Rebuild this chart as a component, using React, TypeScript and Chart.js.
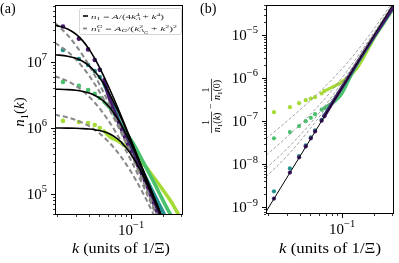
import React, { useEffect, useRef } from 'react';
import { Chart, registerables } from 'chart.js';

Chart.register(...registerables);

const FONT = '"Liberation Serif", "DejaVu Serif", "Times New Roman", serif';
const PURPLE = '#46186d';
const TEAL = '#22908c';
const GREEN = '#49c16d';
const LIME = '#a6db35';
const GRAY = '#888888';
const BLACK = '#000000';

// ---------- axis ranges ----------
const kMin = 0.019;
const kMax = 0.31;
const aMin = 4.8e4;
const aMax = 7.3e7;
const bMin = 7.2e-10;
const bMax = 5.0e-5;
const aYTickExps = [5, 6, 7];
const bYTickExps = [-9, -8, -7, -6, -5];
const xTickExps = [-1];

// ---------- panel (a) ----------
const kFit = [0.019, 0.025, 0.03, 0.035, 0.04, 0.045, 0.05, 0.06, 0.07, 0.08, 0.1, 0.13, 0.17, 0.22];
const fitBlack1 = [3.62e7, 3.17e7, 2.64e7, 2.07e7, 1.555e7, 1.142e7, 8.33e6, 4.52e6, 2.58e6, 1.553e6, 6.51e5, 2.3e5, 7.91e4, 2.82e4];
const fitBlack2 = [1.286e7, 1.224e7, 1.136e7, 1.015e7, 8.73e6, 7.25e6, 5.87e6, 3.67e6, 2.275e6, 1.436e6, 6.29e5, 2.27e5, 7.86e4, 2.81e4];
const fitBlack3 = [3.87e6, 3.81e6, 3.72e6, 3.58e6, 3.39e6, 3.14e6, 2.85e6, 2.21e6, 1.612e6, 1.14e6, 5.64e5, 2.18e5, 7.74e4, 2.8e4];
const fitBlack4 = [9.98e5, 9.94e5, 9.88e5, 9.78e5, 9.63e5, 9.42e5, 9.13e5, 8.36e5, 7.33e5, 6.17e5, 3.98e5, 1.88e5, 7.32e4, 2.74e4];
const fitGray1 = [3.9e7, 2.556e7, 1.78e7, 1.245e7, 8.81e6, 6.33e6, 4.62e6, 2.58e6, 1.532e6, 9.57e5, 4.24e5, 1.574e5, 5.58e4, 2.03e4];
const fitGray2 = [1.951e7, 1.438e7, 1.092e7, 8.23e6, 6.2e6, 4.69e6, 3.57e6, 2.13e6, 1.326e6, 8.57e5, 3.96e5, 1.519e5, 5.5e4, 2.03e4];
const fitGray3 = [6.11e6, 5.12e6, 4.33e6, 3.6e6, 2.97e6, 2.44e6, 2.0e6, 1.344e6, 9.13e5, 6.31e5, 3.2e5, 1.328e5, 5.07e4, 1.93e4];
const fitGray4 = [1.582e6, 1.444e6, 1.318e6, 1.189e6, 1.0625e6, 9.42e5, 8.3e5, 6.37e5, 4.84e5, 3.68e5, 2.15e5, 1.018e5, 4.28e4, 1.74e4];

const kDotsA = [0.0226, 0.032, 0.0391, 0.0452, 0.0505];
const aPurpleDots = [3.45e7, 2.25e7, 1.55e7, 1.07e7, 7.6e6];
const aTealDots = [1.52e7, 1.11e7, 9.0e6, 7.3e6, 5.9e6];
const aGreenDots = [4.98e6, 4.34e6, 3.77e6, 3.28e6, 2.85e6];
const aLimeDots = [1.28e6, 1.23e6, 1.19e6, 1.11e6, 1.0e6];

const aPurpleK = [0.0554, 0.0617, 0.0719, 0.0894, 0.1161, 0.1444, 0.1758, 0.1918];
const aPurpleN = [5.4e6, 2.95e6, 1.52e6, 6.59e5, 2.66e5, 1.23e5, 5.35e4, 3.77e4];
const aTealK = [0.0554, 0.0631, 0.0719, 0.0819, 0.0997, 0.1268, 0.1576, 0.2003, 0.2235];
const aTealN = [4.65e6, 2.85e6, 1.69e6, 1.0e6, 5.16e5, 2.31e5, 1.15e5, 5.35e4, 3.77e4];
const aGreenK = [0.0554, 0.0631, 0.0719, 0.0875, 0.1041, 0.1268, 0.151, 0.1797, 0.2284, 0.2603];
const aGreenN = [2.48e6, 2.01e6, 1.47e6, 9.0e5, 5.93e5, 3.28e5, 1.94e5, 1.13e5, 5.35e4, 3.9e4];
const aLimeK = [0.0554, 0.0631, 0.0751, 0.0875, 0.1041, 0.1268, 0.1576, 0.2003, 0.2438, 0.2718, 0.3031];
const aLimeN = [9.0e5, 7.31e5, 6.36e5, 5.34e5, 4.34e5, 3.05e5, 1.94e5, 1.15e5, 7.31e4, 5.35e4, 3.9e4];

// ---------- panel (b) ----------
const kLineB = [0.019, 0.31];
const lineB = [7.9e-10, 5.6e-5];
const kDashB = [0.019, 0.03, 0.05, 0.08, 0.12, 0.2, 0.31];
const dashB1 = [3.91e-8, 1.0e-7, 3.03e-7, 9.26e-7, 2.78e-6, 1.39e-5, 6.6e-5];
const dashB2 = [1.61e-8, 4.31e-8, 1.44e-7, 5.19e-7, 1.87e-6, 1.14e-5, 6.0e-5];
const dashB3 = [8.0e-9, 2.29e-8, 8.8e-8, 3.76e-7, 1.55e-6, 1.05e-5, 5.8e-5];
const dashB4 = [5.06e-9, 1.55e-8, 6.75e-8, 3.24e-7, 1.43e-6, 1.02e-5, 5.7e-5];

const kDotsB = [0.0226, 0.032, 0.0391, 0.0452, 0.0505, 0.0554, 0.0639, 0.0678];
const bPurpleDots = [1.6e-9, 6.4e-9, 1.45e-8, 2.6e-8, 4.0e-8, 5.8e-8, 1.03e-7, 1.3e-7];
const bTealDots = [2.35e-9, 8.0e-9, 1.55e-8, 2.75e-8, 4.2e-8, 6.1e-8, 1.08e-7, 1.36e-7];
const bGreenDots = [4.0e-8, 5.6e-8, 7.7e-8, 1.0e-7, 1.2e-7, 1.46e-7, 1.85e-7, 2.0e-7];
const bLimeDots = [1.62e-7, 2.12e-7, 2.62e-7, 3.08e-7, 3.35e-7, 3.62e-7, 4.4e-7, 5.0e-7];

const bPurpleK = [0.0678, 0.08, 0.1, 0.13, 0.16, 0.2, 0.25, 0.3, 0.32];
const bPurpleV = [1.3e-7, 2.55e-7, 6.2e-7, 1.75e-6, 3.95e-6, 9.3e-6, 2.15e-5, 4.2e-5, 5.3e-5];
const bTealK = [0.0678, 0.08, 0.1, 0.13, 0.16, 0.2, 0.25, 0.3, 0.32];
const bTealV = [1.36e-7, 2.6e-7, 6.1e-7, 1.7e-6, 3.85e-6, 9.0e-6, 2.05e-5, 4.0e-5, 5.0e-5];
const bGreenK = [0.0678, 0.0735, 0.0818, 0.0913, 0.1, 0.119, 0.15, 0.2, 0.25, 0.3, 0.32];
const bGreenV = [2.0e-7, 2.3e-7, 2.7e-7, 3.4e-7, 4.5e-7, 1.05e-6, 2.9e-6, 8.8e-6, 2.0e-5, 3.9e-5, 4.9e-5];
const bLimeK = [0.0678, 0.08, 0.097, 0.115, 0.137, 0.165, 0.2, 0.25, 0.3, 0.32];
const bLimeV = [5.0e-7, 6.1e-7, 7.9e-7, 1.08e-6, 1.65e-6, 3.5e-6, 8.4e-6, 1.95e-5, 3.85e-5, 4.8e-5];

// ---------- helpers ----------
type Part = { t: string; it?: boolean; s?: number; dy?: number; adv?: boolean };

function rich(ctx: CanvasRenderingContext2D, parts: Part[], x: number, y: number, size: number, draw = true): number {
  let cx = x;
  for (const p of parts) {
    const fs = size * (p.s ?? 1);
    ctx.font = `${p.it ? 'italic ' : ''}${fs}px ${FONT}`;
    const w = ctx.measureText(p.t).width;
    if (draw) ctx.fillText(p.t, cx, y + (p.dy ?? 0) * size);
    if (p.adv !== false) cx += w;
  }
  return cx - x;
}

function logTicks(min: number, max: number) {
  const out: { v: number; major: boolean }[] = [];
  for (let e = Math.floor(Math.log10(min)); e <= Math.ceil(Math.log10(max)); e++) {
    for (let m = 1; m <= 9; m++) {
      const v = m * Math.pow(10, e);
      if (v >= min * 0.9999 && v <= max * 1.0001) out.push({ v, major: m === 1 });
    }
  }
  return out;
}

const expParts = (e: number): Part[] => [
  { t: '10' },
  { t: e < 0 ? '\u2212' + String(-e) : String(e), s: 0.7, dy: -0.45 },
];

const P = (ks: number[], vs: number[]) => vs.map((v, i) => ({ x: ks[i], y: v }));

const lineDs = (ks: number[], vs: number[], color: string, width: number, dash: number[], order: number) => ({
  data: P(ks, vs),
  showLine: true,
  borderColor: color,
  backgroundColor: color,
  borderWidth: width,
  borderDash: dash,
  borderCapStyle: 'butt',
  pointRadius: 0,
  cubicInterpolationMode: 'monotone',
  order,
  clip: 0,
});

const denseDs = (ks: number[], vs: number[], color: string, width: number, order: number) => ({
  data: P(ks, vs),
  showLine: true,
  borderColor: color,
  backgroundColor: color,
  borderWidth: width,
  borderCapStyle: 'round',
  borderJoinStyle: 'round',
  pointRadius: 0,
  cubicInterpolationMode: 'monotone',
  order,
  clip: 0,
});

const dotDs = (ks: number[], vs: number[], color: string, r: number, order: number) => ({
  data: P(ks, vs),
  showLine: false,
  pointRadius: r,
  pointBackgroundColor: color,
  pointBorderColor: color,
  pointBorderWidth: 0,
  order,
  clip: 0,
});

function drawFrame(ctx: CanvasRenderingContext2D, chart: any) {
  const ar = chart.chartArea;
  const xs = chart.scales.x;
  const ys = chart.scales.y;
  ctx.strokeStyle = '#000';
  ctx.lineWidth = 1;
  ctx.strokeRect(ar.left + 0.5, ar.top + 0.5, ar.right - ar.left - 1, ar.bottom - ar.top - 1);
  for (const t of logTicks(ys.min, ys.max)) {
    const py = Math.round(ys.getPixelForValue(t.v)) + 0.5;
    const len = t.major ? 4 : 2;
    ctx.lineWidth = t.major ? 1 : 0.8;
    ctx.beginPath();
    ctx.moveTo(ar.left, py);
    ctx.lineTo(ar.left - len, py);
    ctx.stroke();
  }
  for (const t of logTicks(xs.min, xs.max)) {
    const px = Math.round(xs.getPixelForValue(t.v)) + 0.5;
    const len = t.major ? 4 : 2;
    ctx.lineWidth = t.major ? 1 : 0.8;
    ctx.beginPath();
    ctx.moveTo(px, ar.bottom);
    ctx.lineTo(px, ar.bottom + len);
    ctx.stroke();
  }
}

function drawTickLabels(ctx: CanvasRenderingContext2D, chart: any, yExps: number[]) {
  const ar = chart.chartArea;
  const xs = chart.scales.x;
  const ys = chart.scales.y;
  ctx.fillStyle = '#000';
  for (const e of yExps) {
    const py = ys.getPixelForValue(Math.pow(10, e));
    const parts = expParts(e);
    const w = rich(ctx, parts, 0, 0, 15, false);
    rich(ctx, parts, ar.left - 8 - w, py + 5, 15);
  }
  for (const e of xTickExps) {
    const px = xs.getPixelForValue(Math.pow(10, e));
    const parts = expParts(e);
    const w = rich(ctx, parts, 0, 0, 15, false);
    rich(ctx, parts, px - w / 2, ar.bottom + 20, 15);
  }
}

function drawXTitle(ctx: CanvasRenderingContext2D, cx: number, y: number, target: number) {
  const parts: Part[] = [{ t: 'k', it: true }, { t: ' (units of 1/\u039E)' }];
  const w = rich(ctx, parts, 0, 0, 14, false);
  const sx = target / w;
  ctx.save();
  ctx.translate(cx - target / 2, y);
  ctx.scale(sx, 1);
  rich(ctx, parts, 0, 0, 14);
  ctx.restore();
}

const n1k: Part[] = [{ t: 'n', it: true }, { t: '1', s: 0.7, dy: 0.25 }, { t: '(' }, { t: 'k', it: true }, { t: ')' }];
const n10: Part[] = [{ t: 'n', it: true }, { t: '1', s: 0.7, dy: 0.25 }, { t: '(0)' }];

function drawFrac(ctx: CanvasRenderingContext2D, x: number, den: Part[], size: number): number {
  const wd = rich(ctx, den, 0, 0, size, false);
  const f = wd + 2;
  ctx.font = `${size}px ${FONT}`;
  const w1 = ctx.measureText('1').width;
  ctx.fillText('1', x + f / 2 - w1 / 2, -2.2);
  ctx.lineWidth = 0.7;
  ctx.beginPath();
  ctx.moveTo(x, 0.5);
  ctx.lineTo(x + f, 0.5);
  ctx.stroke();
  rich(ctx, den, x + f / 2 - wd / 2, size * 0.85, size);
  return f;
}

function drawBYTitle(ctx: CanvasRenderingContext2D, cx: number, cy: number, size: number) {
  ctx.save();
  ctx.translate(cx, cy);
  ctx.rotate(-Math.PI / 2);
  const wd1 = rich(ctx, n1k, 0, 0, size, false) + 2;
  const wd2 = rich(ctx, n10, 0, 0, size, false) + 2;
  const minus: Part[] = [{ t: ' \u2212 ' }];
  const wm = rich(ctx, minus, 0, 0, size, false);
  let x = -(wd1 + wm + wd2) / 2;
  x += drawFrac(ctx, x, n1k, size);
  rich(ctx, minus, x, size * 0.32, size);
  x += wm;
  drawFrac(ctx, x, n10, size);
  ctx.restore();
}

function drawLegend(ctx: CanvasRenderingContext2D) {
  const x0 = 79, y0 = 8, x1 = 181, y1 = 34;
  ctx.save();
  ctx.fillStyle = 'rgba(255,255,255,0.85)';
  ctx.strokeStyle = '#cccccc';
  ctx.lineWidth = 0.8;
  ctx.beginPath();
  (ctx as any).roundRect(x0 + 0.5, y0 + 0.5, x1 - x0, y1 - y0, 2);
  ctx.fill();
  ctx.stroke();
  ctx.strokeStyle = BLACK;
  ctx.lineWidth = 1.6;
  ctx.beginPath();
  ctx.moveTo(83, 16);
  ctx.lineTo(88, 16);
  ctx.stroke();
  ctx.strokeStyle = GRAY;
  ctx.lineWidth = 1.8;
  ctx.beginPath();
  ctx.moveTo(83, 28.5);
  ctx.lineTo(87, 28.5);
  ctx.stroke();
  ctx.fillStyle = '#222';
  const size = 7;
  const e1: Part[] = [
    { t: 'n', it: true }, { t: '1', s: 0.7, dy: 0.25 }, { t: ' = ' }, { t: 'A', it: true }, { t: '/(4' },
    { t: 'k', it: true }, { t: 'A', it: true, s: 0.7, dy: 0.25, adv: false }, { t: '4', s: 0.7, dy: -0.4 },
    { t: ' + ' }, { t: 'k', it: true }, { t: '4', s: 0.7, dy: -0.4 }, { t: ')' },
  ];
  const e2: Part[] = [
    { t: 'n', it: true }, { t: '1', s: 0.7, dy: 0.25, adv: false }, { t: 'G', it: true, s: 0.7, dy: -0.4 },
    { t: ' = ' }, { t: 'A', it: true }, { t: 'G', it: true, s: 0.7, dy: 0.25 }, { t: '/(' },
    { t: 'k', it: true }, { t: '2', s: 0.7, dy: -0.4, adv: false }, { t: 'A', it: true, s: 0.7, dy: 0.25 },
    { t: 'G', it: true, s: 0.5, dy: 0.45 }, { t: ' + ' }, { t: 'k', it: true }, { t: '2', s: 0.7, dy: -0.4 },
    { t: ')' }, { t: '2', s: 0.7, dy: -0.4 },
  ];
  const w1 = rich(ctx, e1, 0, 0, size, false);
  ctx.save();
  ctx.translate(91, 18.5);
  ctx.scale(73 / w1, 1);
  rich(ctx, e1, 0, 0, size);
  ctx.restore();
  const w2 = rich(ctx, e2, 0, 0, size, false);
  ctx.save();
  ctx.translate(91, 30.5);
  ctx.scale(86 / w2, 1);
  rich(ctx, e2, 0, 0, size);
  ctx.restore();
  ctx.restore();
}

const pluginA = {
  id: 'decoA',
  afterDraw(chart: any) {
    const ctx = chart.ctx as CanvasRenderingContext2D;
    ctx.save();
    ctx.textAlign = 'left';
    ctx.textBaseline = 'alphabetic';
    drawLegend(ctx);
    drawFrame(ctx, chart);
    drawTickLabels(ctx, chart, aYTickExps);
    ctx.fillStyle = '#000';
    drawXTitle(ctx, 121, 253, 98);
    ctx.save();
    ctx.translate(24, 112);
    ctx.rotate(-Math.PI / 2);
    const w = rich(ctx, n1k, 0, 0, 15, false);
    rich(ctx, n1k, -w / 2, 0, 15);
    ctx.restore();
    ctx.font = `14px ${FONT}`;
    ctx.fillText('(a)', 0, 13);
    ctx.restore();
  },
};

const pluginB = {
  id: 'decoB',
  afterDraw(chart: any) {
    const ctx = chart.ctx as CanvasRenderingContext2D;
    ctx.save();
    ctx.textAlign = 'left';
    ctx.textBaseline = 'alphabetic';
    drawFrame(ctx, chart);
    drawTickLabels(ctx, chart, bYTickExps);
    ctx.fillStyle = '#000';
    ctx.strokeStyle = '#000';
    drawXTitle(ctx, 330, 253, 102);
    drawBYTitle(ctx, 211, 106, 10);
    ctx.font = `14px ${FONT}`;
    ctx.fillText('(b)', 200, 13);
    ctx.restore();
  },
};

function baseOptions(padding: any, yMin: number, yMax: number) {
  return {
    responsive: false,
    animation: false,
    devicePixelRatio: 1,
    events: [],
    layout: { padding },
    plugins: { legend: { display: false }, tooltip: { enabled: false }, title: { display: false } },
    scales: {
      x: { type: 'logarithmic', min: kMin, max: kMax, display: false },
      y: { type: 'logarithmic', min: yMin, max: yMax, display: false },
    },
  };
}

export default function App() {
  const refA = useRef<HTMLCanvasElement>(null);
  const refB = useRef<HTMLCanvasElement>(null);

  useEffect(() => {
    const dsA: any[] = [
      lineDs(kFit, fitBlack1, BLACK, 1.6, [], 1),
      lineDs(kFit, fitBlack2, BLACK, 1.6, [], 1),
      lineDs(kFit, fitBlack3, BLACK, 1.6, [], 1),
      lineDs(kFit, fitBlack4, BLACK, 1.6, [], 1),
      lineDs(kFit, fitGray1, GRAY, 2, [5, 3], 2),
      lineDs(kFit, fitGray2, GRAY, 2, [5, 3], 2),
      lineDs(kFit, fitGray3, GRAY, 2, [5, 3], 2),
      lineDs(kFit, fitGray4, GRAY, 2, [5, 3], 2),
      denseDs(aPurpleK, aPurpleN, PURPLE, 3.6, 3),
      dotDs(kDotsA, aPurpleDots, PURPLE, 2.3, 3),
      denseDs(aTealK, aTealN, TEAL, 3.6, 4),
      dotDs(kDotsA, aTealDots, TEAL, 2.3, 4),
      denseDs(aGreenK, aGreenN, GREEN, 3.6, 5),
      dotDs(kDotsA, aGreenDots, GREEN, 2.3, 5),
      denseDs(aLimeK, aLimeN, LIME, 3.6, 6),
      dotDs(kDotsA, aLimeDots, LIME, 2.3, 6),
    ];
    const dsB: any[] = [
      lineDs(kLineB, lineB, BLACK, 1, [], 1),
      lineDs(kDashB, dashB1, GRAY, 0.8, [3, 2], 2),
      lineDs(kDashB, dashB2, GRAY, 0.8, [3, 2], 2),
      lineDs(kDashB, dashB3, GRAY, 0.8, [3, 2], 2),
      lineDs(kDashB, dashB4, GRAY, 0.8, [3, 2], 2),
      denseDs(bPurpleK, bPurpleV, PURPLE, 3.2, 3),
      dotDs(kDotsB, bPurpleDots, PURPLE, 2.1, 3),
      denseDs(bTealK, bTealV, TEAL, 3.2, 4),
      dotDs(kDotsB, bTealDots, TEAL, 2.1, 4),
      denseDs(bGreenK, bGreenV, GREEN, 3.2, 5),
      dotDs(kDotsB, bGreenDots, GREEN, 2.1, 5),
      denseDs(bLimeK, bLimeV, LIME, 3.2, 6),
      dotDs(kDotsB, bLimeDots, LIME, 2.1, 6),
    ];
    const chartA = new Chart(refA.current as HTMLCanvasElement, {
      type: 'scatter',
      data: { datasets: dsA },
      options: baseOptions({ left: 55, right: 216, top: 5, bottom: 48 }, aMin, aMax) as any,
      plugins: [pluginA],
    });
    const chartB = new Chart(refB.current as HTMLCanvasElement, {
      type: 'scatter',
      data: { datasets: dsB },
      options: baseOptions({ left: 266, right: 5, top: 5, bottom: 49 }, bMin, bMax) as any,
      plugins: [pluginB],
    });
    return () => {
      chartA.destroy();
      chartB.destroy();
    };
  }, []);

  const cstyle: React.CSSProperties = { position: 'absolute', left: 0, top: 0, width: 399, height: 263 };
  return (
    <div style={{ position: 'fixed', left: 0, top: 0, width: 399, height: 263, background: '#fff' }}>
      <canvas ref={refA} width={399} height={263} style={cstyle} />
      <canvas ref={refB} width={399} height={263} style={cstyle} />
    </div>
  );
}
